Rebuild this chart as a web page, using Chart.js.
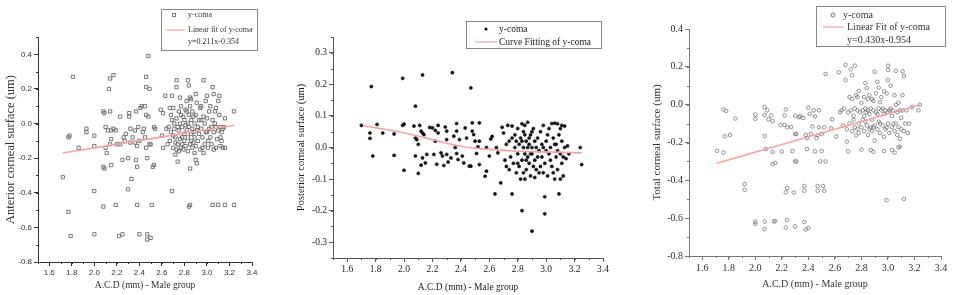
<!DOCTYPE html>
<html>
<head>
<meta charset="utf-8">
<script src="https://cdn.jsdelivr.net/npm/chart.js@4.4.0/dist/chart.umd.min.js"></script>
<style>
  body { margin: 0; background: #fff; width: 963px; height: 295px; overflow: hidden; position: relative; }
  .panel { position: absolute; top: 0; height: 295px; }
</style>
</head>
<body>
<div class="panel" style="left:0;width:320px"><canvas id="chartAnterior"></canvas></div>
<div class="panel" style="left:292px;width:330px"><canvas id="chartPosterior"></canvas></div>
<div class="panel" style="left:648px;width:315px"><canvas id="chartTotal"></canvas></div>
<script>
// y-coma vs A.C.D (male group) — three panels.

const xTitle = "A.C.D (mm) - Male group";
const seriesLabel = "y-coma";
const xTicks = [1.6, 1.8, 2.0, 2.2, 2.4, 2.6, 2.8, 3.0, 3.2, 3.4];

// Panel 1: anterior corneal surface
const anteriorTitle = "Anterior corneal surface (um)";
const anteriorFitLabel = "Linear fit of y-coma";
const anteriorEquation = "y=0.211x-0.354";
const anteriorYTicks = [-0.8, -0.6, -0.4, -0.2, 0.0, 0.2, 0.4];
const anteriorFit = [[1.72, -0.17], [3.24, -0.01]];
const anteriorPoints = [
  [1.72,-0.31],[1.81,0.27],[1.77,-0.08],[1.78,-0.07],[1.86,-0.14],[1.77,-0.51],[1.79,-0.65],
  [1.93,-0.03],[1.93,-0.05],[2.0,-0.07],[2.0,-0.13],[2.0,-0.39],[2.0,-0.64],
  [2.08,0.07],[2.09,0.06],[2.08,-0.25],[2.09,-0.26],[2.08,-0.48],[2.10,-0.02],[2.10,-0.14],[2.11,-0.17],
  [2.12,-0.04],[2.13,0.2],[2.14,0.26],[2.17,0.28],[2.14,0.07],[2.15,-0.04],[2.15,-0.09],[2.14,-0.12],
  [2.17,-0.03],[2.15,-0.24],[2.19,-0.47],[2.22,-0.65],[2.25,-0.64],[2.23,0.04],[2.23,-0.12],[2.25,-0.21],
  [2.26,-0.08],[2.28,-0.06],[2.31,0.06],[2.31,0.04],[2.30,-0.2],[2.30,-0.38],[2.33,-0.32],[2.32,-0.03],
  [2.34,-0.08],[2.36,-0.04],[2.37,0.07],[2.37,-0.21],[2.38,-0.25],[2.38,-0.47],[2.40,-0.64],[2.41,0.09],
  [2.42,0.1],[2.39,-0.02],[2.40,-0.1],[2.43,-0.05],[2.44,-0.03],[2.45,0.1],[2.45,-0.08],[2.46,0.05],
  [2.46,-0.14],[2.46,0.27],[2.46,0.21],[2.49,0.2],[2.48,0.39],[2.47,-0.2],[2.47,-0.64],[2.47,-0.67],
  [2.5,-0.66],[2.48,0.04],[2.49,-0.12],[2.5,-0.12],[2.51,-0.47],[2.52,-0.25],[2.53,-0.24],[2.53,-0.02],
  [2.54,-0.03],[2.36,-0.11],[2.38,-0.13],[2.32,-0.11],[2.27,-0.1],[2.19,-0.04],[2.2,-0.12],
  [2.59,0.08],[2.6,-0.07],[2.61,0.06],[2.61,-0.14],[2.63,0.16],[2.64,-0.03],[2.65,-0.12],[2.67,0.09],
  [2.68,0.05],[2.69,0.16],[2.69,-0.39],[2.70,-0.07],[2.70,-0.14],[2.72,-0.11],[2.72,-0.18],[2.73,0.25],
  [2.73,0.21],[2.74,-0.22],[2.74,-0.02],[2.75,0.07],[2.76,0.15],[2.77,0.05],[2.77,-0.14],[2.78,-0.08],
  [2.8,-0.06],[2.81,-0.01],[2.82,0.07],[2.82,0.13],[2.83,0.25],[2.84,0.22],[2.84,-0.48],[2.85,-0.47],
  [2.85,-0.26],[2.85,0.15],[2.86,0.14],[2.86,-0.1],[2.87,-0.14],[2.88,0.04],[2.88,-0.05],[2.89,-0.17],
  [2.9,0.17],[2.9,-0.21],[2.91,-0.23],[2.92,-0.02],[2.94,0.09],[2.95,0.02],[2.96,-0.14],[2.97,0.25],
  [2.97,-0.17],[2.99,0.13],[3.0,0.16],[3.0,-0.05],[3.01,-0.1],[3.02,0.07],[3.04,-0.02],[3.05,-0.47],
  [3.05,0.21],[3.06,0.17],[3.07,0.07],[3.08,-0.14],[3.08,-0.02],[3.1,0.13],[3.1,-0.47],[3.11,0.16],
  [3.12,-0.08],[3.12,-0.02],[3.13,-0.1],[3.16,-0.14],[3.16,-0.47],[3.16,0.03],[3.24,0.07],[3.24,-0.47],
  [2.66,-0.02],[2.67,-0.1],[2.68,-0.05],[2.69,0.02],[2.7,0.09],[2.71,-0.03],[2.71,0.0],[2.72,-0.08],
  [2.73,-0.15],[2.73,0.03],[2.74,-0.12],[2.75,-0.04],[2.75,-0.16],[2.76,0.0],[2.76,-0.09],[2.77,0.1],
  [2.78,-0.02],[2.78,-0.12],[2.79,0.04],[2.79,-0.15],[2.8,0.02],[2.8,-0.1],[2.81,-0.13],[2.81,0.08],
  [2.82,-0.04],[2.83,0.0],[2.83,-0.08],[2.83,-0.16],[2.84,0.05],[2.84,-0.02],[2.85,-0.12],[2.85,0.1],
  [2.86,-0.06],[2.86,0.02],[2.87,-0.03],[2.87,0.07],[2.88,-0.11],[2.89,0.0],[2.89,-0.08],[2.9,0.05],
  [2.9,-0.13],[2.91,-0.04],[2.91,0.12],[2.92,-0.1],[2.93,0.02],[2.93,-0.06],[2.94,-0.15],[2.95,-0.03],
  [2.95,0.1],[2.96,-0.08],[2.97,0.04],[2.98,-0.12],[2.98,0.0],[2.99,-0.05],[3.0,0.03],[3.01,-0.14],
  [3.02,-0.03],[3.03,0.1],[3.03,-0.08],[3.04,-0.12],[3.05,0.02],[3.06,-0.05],[3.06,-0.15],[3.07,0.0],
  [3.08,0.09],[3.09,-0.09],[3.1,-0.04],[3.11,0.05],[3.12,-0.13],[3.13,-0.05],[3.14,-0.03],[3.14,-0.14],
  [3.15,-0.02]
];

// Panel 2: posterior corneal surface
const posteriorTitle = "Posterior corneal surface (um)";
const posteriorFitLabel = "Curve Fitting of y-coma";
const posteriorYTicks = [-0.3, -0.2, -0.1, 0.0, 0.1, 0.2, 0.3];
const posteriorFit = [[1.72,0.069],[2.0,0.046],[2.2,0.025],[2.4,0.004],[2.6,-0.006],[2.8,-0.012],[3.0,-0.014],[3.25,-0.017]];
const posteriorPoints = [
  [1.70,0.07],[1.76,0.046],[1.76,0.029],[1.77,0.193],[1.78,-0.027],[1.81,0.073],[1.85,0.046],[1.93,0.043],
  [1.93,-0.025],[1.99,0.219],[1.99,0.07],[2.0,0.074],[2.0,-0.072],[2.08,0.131],[2.07,0.068],[2.08,0.03],
  [2.09,0.025],[2.08,-0.027],[2.1,0.01],[2.1,-0.082],[2.11,0.07],[2.12,0.052],[2.13,0.23],[2.13,0.046],
  [2.14,0.041],[2.13,-0.033],[2.12,-0.056],[2.15,-0.049],[2.16,-0.022],[2.18,0.064],[2.2,0.062],[2.22,0.054],
  [2.22,0.02],[2.21,-0.022],[2.23,-0.053],[2.24,0.07],[2.24,0.046],[2.26,-0.017],[2.27,-0.027],[2.28,-0.057],
  [2.29,0.065],[2.3,0.052],[2.3,0.025],[2.3,-0.022],[2.31,-0.046],[2.33,-0.033],[2.34,0.237],[2.35,0.036],
  [2.36,0.0],[2.37,0.076],[2.37,0.052],[2.37,-0.019],[2.38,-0.038],[2.39,0.025],[2.41,-0.027],[2.42,-0.049],
  [2.43,0.062],[2.44,0.03],[2.46,-0.059],[2.47,-0.059],[2.47,0.189],[2.48,0.078],[2.48,0.052],[2.49,0.041],
  [2.5,0.02],[2.51,-0.019],[2.52,0.002],[2.53,0.02],[2.53,0.078],[2.53,-0.054],[2.57,-0.091],[2.58,-0.075],
  [2.58,0.0],[2.6,-0.027],[2.61,0.027],[2.62,0.035],[2.64,-0.147],[2.65,0.0],[2.66,-0.017],[2.68,-0.112],
  [2.69,0.064],[2.7,0.046],
  [2.72,-0.06],[2.73,0.07],[2.74,0.02],[2.75,-0.03],[2.76,-0.147],[2.76,0.068],[2.77,-0.05],[2.78,0.0],
  [2.78,0.04],[2.79,-0.08],[2.8,0.06],[2.8,-0.02],[2.81,0.01],[2.81,-0.06],[2.82,-0.1],[2.82,0.03],
  [2.83,-0.2],[2.83,-0.04],[2.84,0.05],[2.84,0.0],[2.85,-0.02],[2.85,0.07],[2.86,-0.07],[2.86,0.02],
  [2.87,0.08],[2.87,-0.03],[2.88,0.01],[2.88,-0.05],[2.89,0.04],[2.89,-0.09],[2.9,-0.265],[2.9,0.0],
  [2.9,-0.02],[2.91,0.06],[2.92,-0.04],[2.92,0.02],[2.93,-0.07],[2.94,0.03],[2.95,-0.01],[2.95,-0.08],
  [2.96,0.05],[2.97,-0.03],[2.98,0.07],[2.98,0.0],[2.99,-0.156],[2.99,-0.21],[2.99,-0.05],[3.0,0.02],
  [3.01,-0.09],[3.02,0.06],[3.02,-0.02],[3.03,0.0],[3.04,0.076],[3.04,-0.06],[3.05,0.03],[3.06,-0.1],
  [3.06,0.077],[3.07,-0.03],[3.07,0.01],[3.08,0.075],[3.08,-0.07],[3.09,-0.147],[3.09,0.04],[3.1,-0.02],
  [3.1,0.06],[3.11,-0.05],[3.11,0.02],[3.12,-0.09],[3.13,0.0],[3.13,0.068],[3.14,-0.035],[3.15,0.005],
  [3.16,-0.02],[3.24,0.0],[3.25,-0.054],
  [2.71,-0.04],[2.72,0.01],[2.74,-0.07],[2.76,0.03],[2.79,0.02],[2.8,-0.05],[2.83,0.02],[2.84,-0.08],
  [2.85,0.04],[2.86,-0.04],[2.87,0.0],[2.88,0.03],[2.89,-0.02],[2.9,0.05],[2.91,-0.06],[2.93,0.0],
  [2.94,-0.03],[2.96,-0.06],[2.97,0.01],[2.98,-0.08],[3.0,-0.01],[3.01,0.04],[3.03,-0.04],[3.05,-0.08],
  [3.06,0.01],[3.08,-0.01],[3.1,-0.1],[3.11,0.07],[3.12,-0.03],[2.85,-0.1],[2.83,0.075],[2.92,-0.095]
];

// Panel 3: total corneal surface
const totalTitle = "Total corneal surface (um)";
const totalFitLabel = "Linear Fit of y-coma";
const totalEquation = "y=0.430x-0.954";
const totalYTicks = [-0.8, -0.6, -0.4, -0.2, 0.0, 0.2, 0.4];
const totalFit = [[1.71, -0.31], [3.24, 0.0]];
const totalPoints = [
  [1.71,-0.244],[1.76,-0.025],[1.78,-0.033],[1.76,-0.253],[1.77,-0.167],[1.81,-0.16],[1.85,-0.073],[1.92,-0.42],
  [1.92,-0.45],[2.0,-0.62],[2.0,-0.63],[2.0,-0.052],[2.0,-0.075],[2.07,-0.012],[2.07,-0.054],[2.07,-0.166],
  [2.07,-0.618],[2.07,-0.658],[2.08,-0.235],[2.09,-0.03],[2.1,-0.077],[2.12,-0.057],[2.13,-0.087],[2.13,-0.25],
  [2.13,-0.315],[2.15,-0.308],[2.14,-0.618],[2.15,-0.615],[2.19,-0.107],[2.2,-0.248],[2.22,-0.057],[2.22,-0.107],
  [2.23,-0.025],[2.23,-0.65],[2.24,-0.61],[2.23,-0.463],[2.24,-0.44],[2.24,-0.12],[2.27,-0.118],[2.28,-0.245],
  [2.29,-0.465],[2.3,-0.3],[2.31,-0.3],[2.3,-0.644],[2.3,-0.059],[2.3,-0.155],[2.31,-0.155],[2.33,-0.066],
  [2.34,-0.062],[2.36,-0.07],[2.37,-0.43],[2.37,-0.455],[2.37,-0.62],[2.38,-0.66],[2.38,-0.16],[2.39,-0.176],
  [2.39,-0.235],[2.4,-0.653],[2.4,-0.016],[2.41,-0.048],[2.42,-0.155],[2.43,-0.115],[2.44,-0.03],[2.45,-0.062],
  [2.45,-0.247],[2.46,-0.176],[2.47,-0.455],[2.47,-0.43],[2.47,-0.162],[2.48,-0.03],[2.48,-0.12],[2.49,-0.3],
  [2.5,-0.155],[2.5,-0.245],[2.51,-0.43],[2.52,-0.455],[2.52,-0.12],[2.53,-0.3],[2.53,0.162],[2.57,-0.125],
  [2.58,-0.077],[2.61,-0.169],[2.63,0.171],[2.64,-0.04],[2.66,-0.11],[2.68,0.21],[2.68,0.13],[2.69,-0.195],
  [2.7,-0.247],[2.72,0.187],[2.73,0.155],[2.75,0.206],[2.76,-0.163],[2.77,0.04],[2.78,0.073],[2.8,-0.238],
  [2.83,0.115],[2.84,0.088],[2.85,0.03],[2.87,-0.24],[2.89,-0.249],[2.9,0.174],[2.92,0.12],[2.94,0.013],
  [2.97,-0.245],[3.0,0.206],[3.0,0.183],[3.0,0.13],[2.99,-0.505],[3.03,-0.24],[3.05,-0.253],[3.06,0.179],
  [3.08,-0.226],[3.09,-0.222],[3.11,0.176],[3.12,0.151],[3.12,-0.498],[3.18,-0.012],[3.23,-0.03],[3.24,0.0],
  [2.65,-0.03],[2.67,-0.02],[2.69,-0.13],[2.7,-0.04],[2.71,-0.1],[2.72,-0.03],[2.73,-0.14],[2.74,-0.06],
  [2.75,-0.02],[2.75,-0.12],[2.76,0.05],[2.77,-0.03],[2.78,-0.1],[2.78,-0.15],[2.79,-0.04],[2.8,0.01],
  [2.8,-0.12],[2.81,-0.03],[2.82,-0.06],[2.82,-0.14],[2.83,-0.02],[2.83,-0.09],[2.84,-0.11],[2.85,-0.03],
  [2.85,-0.16],[2.86,0.05],[2.86,-0.05],[2.87,-0.12],[2.87,-0.02],[2.88,-0.08],[2.88,-0.14],[2.89,-0.03],
  [2.89,0.02],[2.9,-0.11],[2.9,-0.19],[2.91,-0.04],[2.91,0.06],[2.92,-0.13],[2.93,-0.02],[2.93,-0.09],
  [2.94,-0.15],[2.95,-0.03],[2.95,0.04],[2.96,-0.11],[2.97,-0.05],[2.97,-0.17],[2.98,-0.03],[2.98,-0.13],
  [2.99,0.06],[3.0,-0.1],[3.0,-0.04],[3.01,-0.15],[3.02,-0.02],[3.02,0.1],[3.03,-0.12],[3.03,-0.06],
  [3.04,-0.03],[3.05,-0.14],[3.05,0.05],[3.06,-0.1],[3.06,0.0],[3.07,-0.04],[3.07,-0.16],[3.08,-0.12],
  [3.08,0.01],[3.09,-0.03],[3.09,-0.18],[3.1,-0.13],[3.1,-0.07],[3.11,-0.03],[3.11,0.05],[3.12,-0.14],
  [3.13,-0.1],[3.14,-0.03],[3.15,-0.15],[3.16,-0.1],[2.74,-0.08],[2.77,-0.13],[2.81,-0.08],[2.84,-0.04],
  [2.86,-0.13],[2.89,-0.12],[2.92,-0.05],[2.94,-0.1],[2.96,-0.02],[2.99,-0.12],[3.01,-0.03],[3.04,-0.1],
  [2.82,0.04],[2.88,0.03],[2.93,0.09],[2.97,0.07],[2.71,0.04],[2.73,0.03]
];

const FIT_COLOR = "#f4a3a3";

const toXY = (pairs) => pairs.map(([x, y]) => ({ x, y }));
const fmt1 = (v) => (Math.abs(v) < 1e-9 ? 0 : v).toFixed(1);
const fixedTicks = (values) => (scale) => { scale.ticks = values.map((value) => ({ value })); };

// short minor ticks between the labelled ones (Origin style)
const minorTicks = {
  id: "minorTicks",
  afterDraw(chart, args, o) {
    const ctx = chart.ctx;
    const xs = chart.scales.x, ys = chart.scales.y;
    ctx.save();
    ctx.strokeStyle = o.color;
    ctx.lineWidth = 1;
    ctx.beginPath();
    for (let v = xs.min; v <= xs.max + 1e-9; v += o.xStep) {
      const px = Math.round(xs.getPixelForValue(v)) + 0.5;
      ctx.moveTo(px, ys.bottom);
      ctx.lineTo(px, ys.bottom + o.len);
    }
    for (let v = ys.min; v <= ys.max + 1e-9; v += o.yStep) {
      const py = Math.round(ys.getPixelForValue(v)) + 0.5;
      ctx.moveTo(xs.left, py);
      ctx.lineTo(xs.left - o.len, py);
    }
    ctx.stroke();
    ctx.restore();
  },
};

// boxed legend placed where the original figure has it
const boxLegend = {
  id: "boxLegend",
  afterDraw(chart, args, o) {
    const ctx = chart.ctx;
    ctx.save();
    ctx.strokeStyle = o.boxColor;
    ctx.lineWidth = 1;
    ctx.strokeRect(o.x + 0.5, o.y + 0.5, o.w, o.h);

    ctx.strokeStyle = o.markerColor;
    ctx.fillStyle = o.markerColor;
    ctx.beginPath();
    if (o.marker === "rect") {
      ctx.strokeRect(o.markerX - 1.5, o.rows[0] - 1.5, 3, 3);
    } else if (o.marker === "dot") {
      ctx.arc(o.markerX, o.rows[0], 1.6, 0, Math.PI * 2);
      ctx.fill();
    } else {
      ctx.arc(o.markerX, o.rows[0], 2, 0, Math.PI * 2);
      ctx.stroke();
    }

    ctx.strokeStyle = FIT_COLOR;
    ctx.lineWidth = 1.2;
    ctx.beginPath();
    ctx.moveTo(o.lineX[0], o.rows[1]);
    ctx.lineTo(o.lineX[1], o.rows[1]);
    ctx.stroke();

    ctx.fillStyle = o.textColor;
    ctx.font = o.font;
    ctx.textBaseline = "middle";
    ctx.fillText(seriesLabel, o.textX[0], o.rows[0]);
    ctx.fillText(o.fitLabel, o.textX[1], o.rows[1]);
    if (o.equation) ctx.fillText(o.equation, o.textX[1], o.rows[2]);
    ctx.restore();
  },
};

function makeChart(id, p) {
  const axisColor = p.axisColor;
  const serif = "'Liberation Serif', 'Times New Roman', serif";
  const tickFont = { family: p.tickFamily, size: p.tickSize };
  return new Chart(document.getElementById(id), {
    type: "scatter",
    data: {
      datasets: [
        {
          label: seriesLabel,
          data: toXY(p.points),
          pointStyle: p.pointStyle,
          pointRadius: p.pointRadius,
          pointBorderWidth: p.pointBorderWidth,
          pointBorderColor: p.pointColor,
          pointBackgroundColor: p.pointFill,
          order: 2,
        },
        {
          label: p.fitLabel,
          type: "line",
          data: toXY(p.fit),
          borderColor: FIT_COLOR,
          borderWidth: 1.6,
          pointRadius: 0,
          tension: 0.4,
          fill: false,
          order: 1,
        },
      ],
    },
    options: {
      responsive: true,
      maintainAspectRatio: false,
      animation: false,
      events: [],
      layout: { padding: { top: p.padTop, right: p.padRight, left: 0, bottom: 0 } },
      plugins: {
        legend: { display: false },
        tooltip: { enabled: false },
        minorTicks: { color: axisColor, len: 2, xStep: 0.1, yStep: p.yMinor },
        boxLegend: p.legend,
      },
      scales: {
        x: {
          type: "linear",
          min: 1.5,
          max: 3.4,
          afterBuildTicks: fixedTicks(xTicks),
          afterFit: (s) => { s.height = p.xHeight; },
          border: { display: true, color: axisColor, width: 1 },
          grid: { drawOnChartArea: false, drawTicks: true, tickLength: 4, tickColor: axisColor },
          ticks: { padding: 2, color: p.textColor, font: tickFont, callback: fmt1, maxRotation: 0, autoSkip: false },
          title: { display: true, text: xTitle, color: p.textColor, font: { family: serif, size: p.xTitleSize }, padding: { top: 0, bottom: p.xTitlePad } },
        },
        y: {
          type: "linear",
          min: p.yMin,
          max: p.yMax,
          afterBuildTicks: fixedTicks(p.yTicks),
          afterFit: (s) => { s.width = p.yWidth; },
          border: { display: true, color: axisColor, width: 1 },
          grid: { drawOnChartArea: false, drawTicks: true, tickLength: 4, tickColor: axisColor },
          ticks: { padding: 2, color: p.textColor, font: tickFont, callback: fmt1, autoSkip: false },
          title: { display: true, text: p.yTitle, color: p.textColor, font: { family: serif, size: p.yTitleSize }, padding: { top: p.yTitlePad, bottom: 0 } },
        },
      },
    },
    plugins: [minorTicks, boxLegend],
  });
}

makeChart("chartAnterior", {
  points: anteriorPoints, fit: anteriorFit, fitLabel: anteriorFitLabel, yTitle: anteriorTitle,
  yMin: -0.8, yMax: 0.5, yTicks: anteriorYTicks, yMinor: 0.1,
  padTop: 37, padRight: 68, yWidth: 38, xHeight: 33, yTitlePad: 3, xTitlePad: 4,
  axisColor: "#333", textColor: "#333",
  tickFamily: "'Liberation Sans', Arial, sans-serif", tickSize: 8, xTitleSize: 9.5, yTitleSize: 12.5,
  pointStyle: "rect", pointRadius: 2.3, pointBorderWidth: 0.9, pointColor: "#6a6a6a", pointFill: "rgba(255,255,255,0)",
  legend: {
    x: 161, y: 9, w: 96, h: 41, rows: [15, 30, 42], markerX: 174, marker: "rect", markerColor: "#777",
    lineX: [166, 185], textX: [188, 188], fitLabel: anteriorFitLabel, equation: anteriorEquation,
    font: "8px 'Liberation Serif', serif", textColor: "#333", boxColor: "#888",
  },
});

makeChart("chartPosterior", {
  points: posteriorPoints, fit: posteriorFit, fitLabel: posteriorFitLabel, yTitle: posteriorTitle,
  yMin: -0.35, yMax: 0.35, yTicks: posteriorYTicks, yMinor: 0.05,
  padTop: 37, padRight: 19, yWidth: 41, xHeight: 37, yTitlePad: 3, xTitlePad: 2,
  axisColor: "#555", textColor: "#222",
  tickFamily: "'Liberation Serif', 'Times New Roman', serif", tickSize: 9.5, xTitleSize: 9.5, yTitleSize: 10.5,
  pointStyle: "circle", pointRadius: 1.6, pointBorderWidth: 0.5, pointColor: "#111", pointFill: "#111",
  legend: {
    x: 174, y: 21, w: 135, h: 27, rows: [29, 42], markerX: 194, marker: "dot", markerColor: "#111",
    lineX: [183, 205], textX: [207, 207], fitLabel: posteriorFitLabel, equation: null,
    font: "9.5px 'Liberation Serif', serif", textColor: "#222", boxColor: "#888",
  },
});

makeChart("chartTotal", {
  points: totalPoints, fit: totalFit, fitLabel: totalFitLabel, yTitle: totalTitle,
  yMin: -0.8, yMax: 0.4, yTicks: totalYTicks, yMinor: 0.1,
  padTop: 29, padRight: 22, yWidth: 41, xHeight: 39, yTitlePad: 3, xTitlePad: 5,
  axisColor: "#777", textColor: "#333",
  tickFamily: "'Liberation Serif', 'Times New Roman', serif", tickSize: 10, xTitleSize: 10, yTitleSize: 11,
  pointStyle: "circle", pointRadius: 1.8, pointBorderWidth: 0.8, pointColor: "#777", pointFill: "rgba(255,255,255,0)",
  legend: {
    x: 168, y: 6, w: 129, h: 40, rows: [15, 27, 40], markerX: 185, marker: "circle", markerColor: "#777",
    lineX: [175, 196], textX: [195, 199], fitLabel: totalFitLabel, equation: totalEquation,
    font: "10px 'Liberation Serif', serif", textColor: "#333", boxColor: "#888",
  },
});
</script>
</body>
</html>
